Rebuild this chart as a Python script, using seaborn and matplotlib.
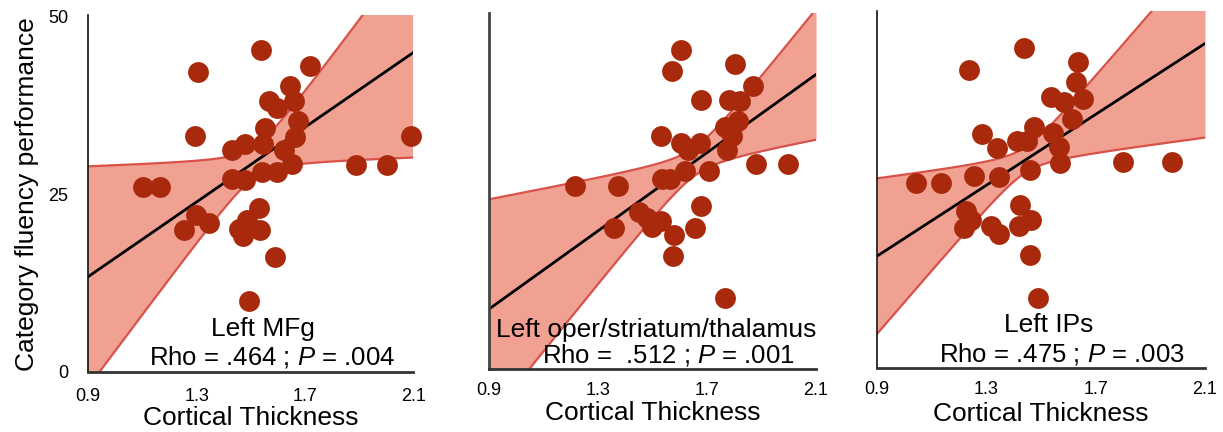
import numpy as np
import pandas as pd
import matplotlib
matplotlib.use("Agg")
import matplotlib.pyplot as plt
import seaborn as sns

# cortical thickness (x) and category fluency (y)
mfg_x = [1.539, 1.720, 1.304, 1.646, 1.566, 1.597, 1.658, 1.676, 1.551, 1.295,
         1.662, 2.093, 1.545, 1.480, 1.431, 1.621, 1.652, 1.889, 2.003, 1.597,
         1.541, 1.431, 1.477, 1.102, 1.166, 1.529, 1.299, 1.344, 1.252, 1.455,
         1.486, 1.535, 1.473, 1.590, 1.492]
mfg_y = [45.3, 43.1, 42.2, 40.3, 38.2, 37.1, 38.1, 35.3, 34.3, 33.2,
         33.1, 33.2, 32.1, 32.1, 31.2, 31.2, 29.2, 29.1, 29.1, 28.1,
         28.1, 27.1, 27.0, 26.0, 26.0, 23.1, 22.1, 21.0, 20.0, 20.1,
         21.4, 20.0, 19.1, 16.2, 10.0]

oper_x = [1.603, 1.570, 1.801, 1.679, 1.868, 1.779, 1.822, 1.815, 1.767, 1.791,
          1.773, 1.533, 1.603, 1.631, 1.676, 1.880, 1.998, 1.621, 1.706, 1.536,
          1.566, 1.214, 1.375, 1.679, 1.451, 1.481, 1.530, 1.499, 1.360, 1.655,
          1.578, 1.575, 1.767]
oper_y = [45.0, 42.1, 43.1, 38.0, 40.0, 38.0, 37.9, 35.1, 34.2, 33.0,
          31.0, 33.0, 32.0, 31.0, 32.0, 29.0, 29.0, 28.0, 28.0, 26.9,
          26.9, 25.9, 25.9, 23.1, 22.2, 21.3, 21.0, 20.1, 20.0, 20.0,
          19.0, 16.0, 10.0]

ips_x = [1.436, 1.236, 1.634, 1.627, 1.537, 1.582, 1.655, 1.612, 1.473, 1.284,
         1.543, 1.412, 1.448, 1.339, 1.566, 1.570, 1.801, 1.980, 1.254, 1.347,
         1.461, 1.041, 1.132, 1.424, 1.223, 1.242, 1.217, 1.315, 1.345, 1.418,
         1.464, 1.461, 1.488]
ips_y = [45.0, 42.0, 43.1, 40.2, 38.1, 37.5, 37.9, 35.1, 34.0, 32.9,
         33.1, 32.0, 31.9, 31.0, 31.1, 28.9, 29.0, 29.0, 27.0, 26.9,
         27.9, 26.0, 26.0, 22.9, 22.1, 20.9, 19.8, 20.0, 18.9, 20.0,
         20.9, 15.9, 9.9]

# fitted line (value at 0.9 and slope) and its confidence band
# (narrowest point, half-width there, widening rate), as drawn in the figure
fit_at_09 = [13.4, 8.5, 15.8]
fit_slope = [26.3, 27.6, 24.9]
band_neck_x = [1.515, 1.657, 1.441]
band_neck_w = [2.2, 2.0, 1.8]
band_spread = [25.0, 20.3, 19.9]

region_names = ["Left MFg", "Left oper/striatum/thalamus", "Left IPs"]
stat_labels = [r"Rho = .464 ; $P$ = .004",
               r"Rho =  .512 ; $P$ = .001",
               r"Rho = .475 ; $P$ = .003"]
x_ticks = [0.9, 1.3, 1.7, 2.1]
y_ticks = [0, 25, 50]

point_col = "#a8290c"
band_col = "#f0a192"
edge_col = "#d9524a"

sns.set_style("white")
plt.rcParams["font.family"] = ["Liberation Sans", "DejaVu Sans"]
plt.rcParams["mathtext.fontset"] = "custom"
plt.rcParams["mathtext.rm"] = "Liberation Sans"
plt.rcParams["mathtext.it"] = "Liberation Sans:italic"
plt.rcParams["text.color"] = "black"
plt.rcParams["axes.labelcolor"] = "black"

W, H = 1223, 432
fig = plt.figure(figsize=(W / 100, H / 100), dpi=100)

# axes boxes in pixels: left, right, top, bottom
boxes = [(88.3, 413.3, 15.0, 371.7),
         (489.0, 816.0, 13.3, 369.3),
         (877.3, 1205.0, 11.0, 368.3)]
tick_pads = [11.5, 9.5, 9]
xlabel_y = [-0.096, -0.089, -0.094]
name_pos = [(263, 336), (656, 336.5), (1049, 331.5)]
stat_pos = [(272, 365), (668, 363), (1061.5, 361.5)]

panels = [(mfg_x, mfg_y), (oper_x, oper_y), (ips_x, ips_y)]

for i, (xs, ys) in enumerate(panels):
    l, r, t, b = boxes[i]
    ax = fig.add_axes([l / W, 1 - b / H, (r - l) / W, (b - t) / H])
    df = pd.DataFrame({"thick": xs, "fluency": ys})

    grid = np.linspace(0.9, 2.1, 200)
    fit = fit_at_09[i] + fit_slope[i] * (grid - 0.9)
    half = np.sqrt(band_neck_w[i] ** 2 + (band_spread[i] * (grid - band_neck_x[i])) ** 2)
    ax.fill_between(grid, fit - half, fit + half, color=band_col, lw=0, zorder=1)
    ax.plot(grid, fit - half, color=edge_col, lw=1.6, zorder=1.5)
    ax.plot(grid, fit + half, color=edge_col, lw=1.6, zorder=1.5)
    ax.plot(grid, fit, color="black", lw=2, zorder=2.5)

    sns.scatterplot(data=df, x="thick", y="fluency", ax=ax, s=225,
                    color=point_col, linewidth=0, alpha=1, zorder=3,
                    clip_on=False)
    ax.set_xlim(0.9, 2.1)
    ax.set_ylim(0, 50.25)

    sns.despine(ax=ax)
    ax.spines["bottom"].set_linewidth(2)
    ax.spines["bottom"].set_color("#333333")
    ax.spines["left"].set_linewidth(1.2 if i != 1 else 2)
    ax.spines["left"].set_color("#111111" if i != 1 else "#444444")

    ax.set_xticks(x_ticks)
    ax.set_xticklabels([f"{v:.1f}" for v in x_ticks])
    ax.set_yticks(y_ticks)
    if i == 0:
        ax.set_yticklabels([str(v) for v in y_ticks])
    else:
        ax.set_yticklabels([])
    ax.tick_params(axis="both", length=0, labelsize=13, colors="black")
    ax.tick_params(axis="x", pad=tick_pads[i])
    ax.tick_params(axis="y", pad=14.4)

    ax.set_ylabel("")
    ax.set_xlabel("Cortical Thickness", fontsize=19)
    ax.xaxis.set_label_coords(0.5, xlabel_y[i])

    fig.text(name_pos[i][0] / W, 1 - name_pos[i][1] / H, region_names[i],
             fontsize=19, ha="center", va="baseline")
    fig.text(stat_pos[i][0] / W, 1 - stat_pos[i][1] / H, stat_labels[i],
             fontsize=18.5, ha="center", va="baseline")

fig.text(26.7 / W, 1 - 194 / H, "Category fluency performance",
         fontsize=19, rotation=90, ha="center", va="center")

fig.savefig("out.png", dpi=100)
